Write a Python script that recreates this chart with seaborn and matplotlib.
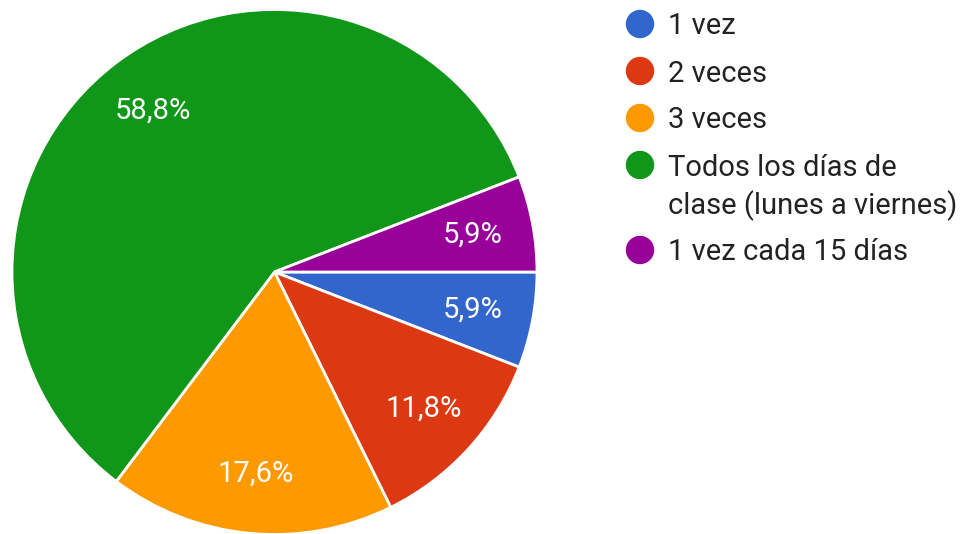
import matplotlib
matplotlib.use("Agg")
import matplotlib.pyplot as plt
from matplotlib.patches import Ellipse
import numpy as np
import seaborn as sns

categories = ["1 vez", "2 veces", "3 veces",
              "Todos los días de\nclase (lunes a viernes)", "1 vez cada 15 días"]
values = [5.9, 11.8, 17.6, 58.8, 5.9]
pct_labels = ["5,9%", "11,8%", "17,6%", "58,8%", "5,9%"]
colors = ["#3366CC", "#DC3912", "#FF9900", "#109618", "#990099"]

sns.set_theme(style="white")
plt.rcParams["font.family"] = ["Roboto", "DejaVu Sans"]

W, H = 961, 534
fig = plt.figure(figsize=(W / 100, H / 100), dpi=100)
fig.patch.set_facecolor("white")

cx, cy, r = 274.5, 272, 262.5
ax = fig.add_axes([(cx - r) / W, (H - cy - r) / H, 2 * r / W, 2 * r / H])
pal = sns.color_palette(colors)
wedges, _ = ax.pie(values, colors=pal, startangle=0, counterclock=False,
                   radius=1, wedgeprops=dict(edgecolor="white", linewidth=2))
for w, lab in zip(wedges, pct_labels):
    ang = np.deg2rad((w.theta1 + w.theta2) / 2)
    ax.text(0.77 * np.cos(ang), 0.77 * np.sin(ang), lab, ha="center", va="center",
            color="white", fontsize=21)
ax.set_xlim(-1, 1)
ax.set_ylim(-1, 1)
ax.set_aspect("equal")
ax.axis("off")

# legend
row_y = [24, 71, 118, 165, 250]
for y, lab, c in zip(row_y, categories, pal):
    fig.patches.append(Ellipse((640 / W, 1 - y / H), 27 / W, 27 / H,
                               transform=fig.transFigure, color=c))
    for i, line in enumerate(lab.split("\n")):
        fig.text(668 / W, 1 - (y + 10.5 + 39 * i) / H, line, ha="left",
                 va="baseline", fontsize=21, color="#222222")

fig.savefig("out.png", dpi=100, facecolor="white")
